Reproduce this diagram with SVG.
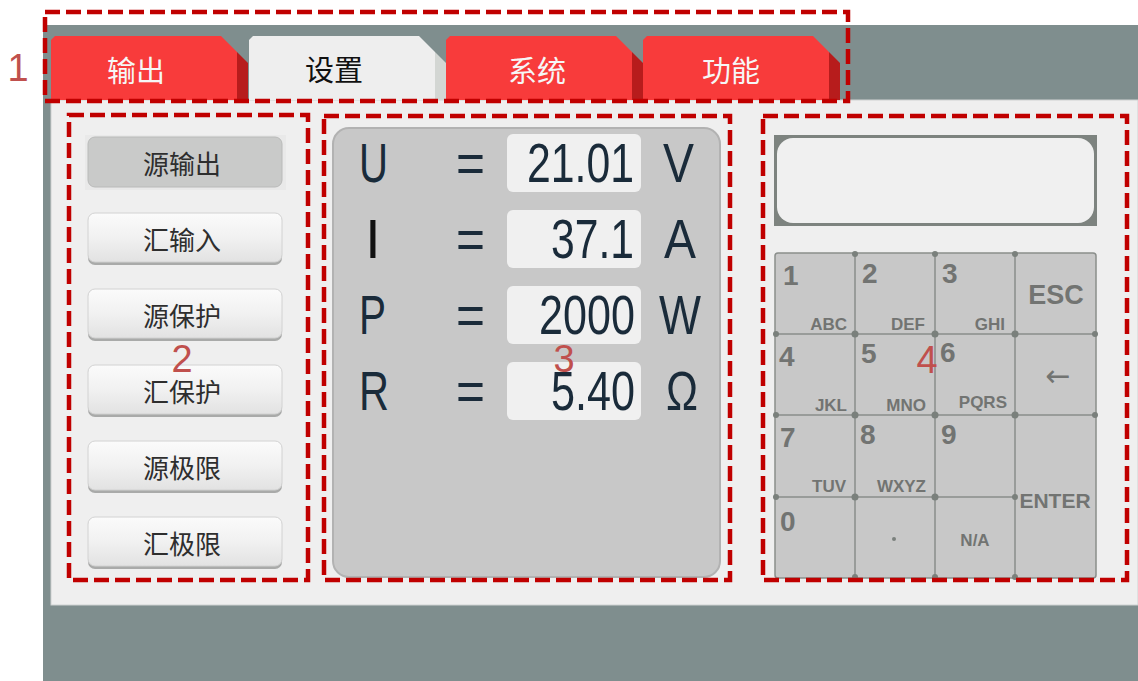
<svg xmlns="http://www.w3.org/2000/svg" width="1138" height="681" viewBox="0 0 1138 681">
<defs>
<linearGradient id="btnG" x1="0" y1="0" x2="0" y2="1">
<stop offset="0" stop-color="#fbfbfb"/><stop offset="0.5" stop-color="#f1f1f1"/><stop offset="1" stop-color="#e2e2e2"/>
</linearGradient>
</defs>
<style>
.dash{fill:none;stroke:#c00000;stroke-width:4.5;stroke-dasharray:15 6}
.lbl{font-family:"Liberation Sans",sans-serif;font-size:38px;fill:#c0504d;text-anchor:middle}
.tabr{fill:#f83b3b}.tabrs{fill:#b71c1c}
.tabt{font-family:"Noto Sans CJK SC",sans-serif;font-size:29px;text-anchor:middle;dominant-baseline:central}
.btn{fill:url(#btnG);stroke:#d2d2d2;stroke-width:1}
.btnsh{fill:#a9aaa9}
.bt{font-family:"Noto Sans CJK SC",sans-serif;font-size:26px;fill:#2e2e2e;text-anchor:middle;dominant-baseline:central}
.big{font-family:"Liberation Sans",sans-serif;font-size:55px;fill:#1a2b3a}
.vbox{fill:#f0f0f0}
.kd{font-family:"Liberation Sans",sans-serif;font-weight:bold;font-size:28px;fill:#727472}
.kw{font-family:"Liberation Sans",sans-serif;font-weight:bold;fill:#727472;text-anchor:middle}
.ks{font-family:"Liberation Sans",sans-serif;font-weight:bold;font-size:17px;fill:#727472;text-anchor:end}
.kl{fill:none;stroke:#8a8e8b;stroke-width:1.5}
.dot{fill:#7a807c}
</style>
<rect x="0" y="0" width="1138" height="681" fill="#ffffff"/>
<rect x="43" y="25" width="1095" height="656" fill="#7f8e8e"/>
<rect x="51" y="100" width="1087" height="505" fill="#efefef" stroke="#cfd2d2" stroke-width="1"/>

<g id="tab-output">
<polygon class="tabr" points="51,40 55,36 221,36 237,52 237,100 51,100"/>
<polygon class="tabrs" points="237,52 248,63 248,100 237,100"/>
<text class="tabt" x="136" y="69" fill="#f6f6f6">输出</text>
</g>
<g id="tab-settings">
<polygon fill="#eeeeee" points="249,40 253,36 419,36 435,52 435,100 249,100"/>
<polygon fill="#d3d6d3" points="435,52 446,63 446,100 435,100"/>
<text class="tabt" x="334" y="68" fill="#111111">设置</text>
</g>
<g id="tab-system">
<polygon class="tabr" points="446,40 450,36 616,36 632,52 632,100 446,100"/>
<polygon class="tabrs" points="632,52 643,63 643,100 632,100"/>
<text class="tabt" x="537" y="69" fill="#f6f6f6">系统</text>
</g>
<g id="tab-function">
<polygon class="tabr" points="643,40 647,36 813,36 829,52 829,100 643,100"/>
<polygon class="tabrs" points="829,52 840,63 840,100 829,100"/>
<text class="tabt" x="731" y="69" fill="#f6f6f6">功能</text>
</g>

<g id="buttons">
<rect x="85" y="135" width="201" height="55" fill="#e9e9e9"/>
<rect x="88" y="137" width="194" height="50" rx="7" fill="#c9cac9" stroke="#b9bab9"/>
<text class="bt" x="182" y="162">源输出</text>
<rect class="btnsh" x="88" y="215" width="194" height="50" rx="7"/>
<rect class="btn" x="88" y="213" width="194" height="49" rx="7"/>
<text class="bt" x="182" y="238">汇输入</text>
<rect class="btnsh" x="88" y="291" width="194" height="50" rx="7"/>
<rect class="btn" x="88" y="289" width="194" height="49" rx="7"/>
<text class="bt" x="182" y="314">源保护</text>
<rect class="btnsh" x="88" y="367" width="194" height="50" rx="7"/>
<rect class="btn" x="88" y="365" width="194" height="49" rx="7"/>
<text class="bt" x="182" y="390">汇保护</text>
<rect class="btnsh" x="88" y="443" width="194" height="50" rx="7"/>
<rect class="btn" x="88" y="441" width="194" height="49" rx="7"/>
<text class="bt" x="182" y="466">源极限</text>
<rect class="btnsh" x="88" y="519" width="194" height="50" rx="7"/>
<rect class="btn" x="88" y="517" width="194" height="49" rx="7"/>
<text class="bt" x="182" y="542">汇极限</text>
</g>

<g id="readout">
<rect x="333" y="128" width="387" height="449" rx="16" fill="#c8c8c8" stroke="#b2b2b2" stroke-width="2"/>
<rect class="vbox" x="507" y="134" width="134" height="58" rx="6"/>
<rect class="vbox" x="507" y="210" width="134" height="58" rx="6"/>
<rect class="vbox" x="507" y="286" width="134" height="58" rx="6"/>
<rect class="vbox" x="507" y="362" width="134" height="58" rx="6"/>
<text class="big" x="359" y="182" textLength="29" lengthAdjust="spacingAndGlyphs">U</text>
<text class="big" x="373" y="258" text-anchor="middle" style="fill:#111111">I</text>
<text class="big" x="359" y="334" textLength="27" lengthAdjust="spacingAndGlyphs">P</text>
<text class="big" x="359" y="410" textLength="30" lengthAdjust="spacingAndGlyphs">R</text>
<text class="big" x="456" y="182" textLength="29" lengthAdjust="spacingAndGlyphs">=</text>
<text class="big" x="456" y="258" textLength="29" lengthAdjust="spacingAndGlyphs">=</text>
<text class="big" x="456" y="334" textLength="29" lengthAdjust="spacingAndGlyphs">=</text>
<text class="big" x="456" y="410" textLength="29" lengthAdjust="spacingAndGlyphs">=</text>
<text class="big" x="527" y="182" textLength="107" lengthAdjust="spacingAndGlyphs">21.01</text>
<text class="big" x="551" y="258" textLength="83" lengthAdjust="spacingAndGlyphs">37.1</text>
<text class="big" x="539" y="334" textLength="96" lengthAdjust="spacingAndGlyphs">2000</text>
<text class="big" x="551" y="410" textLength="84" lengthAdjust="spacingAndGlyphs">5.40</text>
<text class="big" x="663" y="182" textLength="31" lengthAdjust="spacingAndGlyphs">V</text>
<text class="big" x="664" y="258" textLength="32" lengthAdjust="spacingAndGlyphs">A</text>
<text class="big" x="659" y="334" textLength="42" lengthAdjust="spacingAndGlyphs">W</text>
<text class="big" x="666" y="410" textLength="32" lengthAdjust="spacingAndGlyphs">Ω</text>
</g>

<g id="keypad">
<rect x="774" y="135" width="323" height="91" fill="#7d837f"/>
<rect x="777" y="138" width="317" height="85" rx="16" fill="#f0f0f0"/>
<rect x="775" y="253" width="321" height="325" rx="3" fill="#c8c8c8"/>
<g class="kl">
<rect x="775" y="253" width="321" height="325" rx="3"/>
<line x1="855" y1="253" x2="855" y2="578"/>
<line x1="935" y1="253" x2="935" y2="578"/>
<line x1="1015" y1="253" x2="1015" y2="578"/>
<line x1="775" y1="334" x2="1096" y2="334"/>
<line x1="775" y1="415" x2="1096" y2="415"/>
<line x1="775" y1="497" x2="1015" y2="497"/>
</g>
<g class="dot">
<circle cx="855" cy="254" r="3"/><circle cx="935" cy="254" r="3"/><circle cx="1015" cy="254" r="3"/>
<circle cx="776" cy="334" r="3"/><circle cx="855" cy="334" r="3.5"/><circle cx="935" cy="334" r="3.5"/><circle cx="1015" cy="334" r="3.5"/><circle cx="1095" cy="334" r="3"/>
<circle cx="776" cy="415" r="3"/><circle cx="855" cy="415" r="3.5"/><circle cx="935" cy="415" r="3.5"/><circle cx="1015" cy="415" r="3.5"/><circle cx="1095" cy="415" r="3"/>
<circle cx="776" cy="497" r="3"/><circle cx="855" cy="497" r="3.5"/><circle cx="935" cy="497" r="3.5"/><circle cx="1015" cy="497" r="3"/>
<circle cx="855" cy="577" r="3"/><circle cx="935" cy="577" r="3"/><circle cx="1015" cy="577" r="3"/>
</g>
<text class="kd" x="783" y="285">1</text>
<text class="kd" x="862" y="283">2</text>
<text class="kd" x="942" y="283">3</text>
<text class="kw" x="1056" y="304" style="font-size:27px">ESC</text>
<text class="ks" x="847" y="330">ABC</text>
<text class="ks" x="925" y="330">DEF</text>
<text class="ks" x="1005" y="330">GHI</text>
<text class="kd" x="779" y="366">4</text>
<text class="kd" x="861" y="363">5</text>
<text class="kd" x="940" y="362">6</text>
<text x="1058" y="375" font-family="DejaVu Sans,sans-serif" font-size="30" fill="#727472" text-anchor="middle" dominant-baseline="central">←</text>
<text class="ks" x="847" y="411">JKL</text>
<text class="ks" x="926" y="411">MNO</text>
<text class="ks" x="1007" y="408">PQRS</text>
<text class="kd" x="780" y="447">7</text>
<text class="kd" x="860" y="444">8</text>
<text class="kd" x="941" y="444">9</text>
<text class="ks" x="846" y="492">TUV</text>
<text class="ks" x="926" y="492">WXYZ</text>
<text class="kw" x="1055" y="508" style="font-size:21px">ENTER</text>
<text class="kd" x="780" y="531">0</text>
<circle class="dot" cx="894" cy="539" r="2"/>
<text class="kw" x="975" y="546" style="font-size:17px">N/A</text>
</g>

<g id="annotations">
<rect class="dash" x="45" y="12" width="803" height="89"/>
<rect class="dash" x="69" y="115" width="239" height="465"/>
<rect class="dash" x="324" y="116" width="406" height="464"/>
<rect class="dash" x="763" y="116" width="364" height="464"/>
<text class="lbl" x="18" y="81">1</text>
<text class="lbl" x="182" y="372">2</text>
<text class="lbl" x="564" y="372">3</text>
<text class="lbl" x="927" y="373">4</text>
</g>
<g id="connectors"/>
</svg>
